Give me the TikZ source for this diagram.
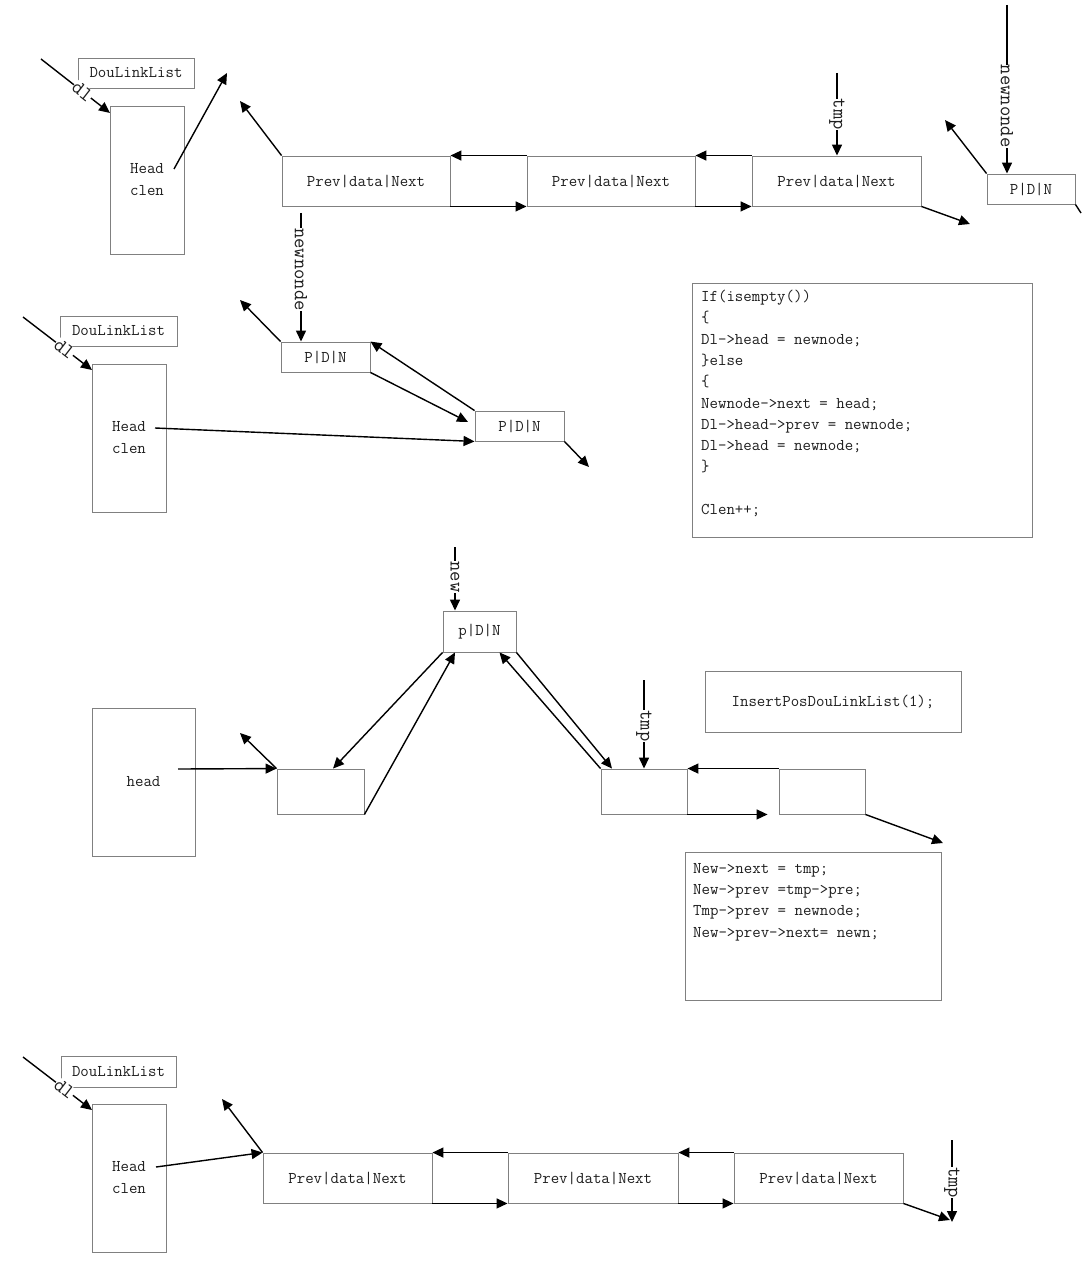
\documentclass[tikz,border=0pt]{standalone}
\usepackage{fontspec}
\usetikzlibrary{arrows.meta}
\definecolor{boxgray}{RGB}{128,128,128}
\definecolor{inkgray}{RGB}{30,30,30}
\tikzset{
  cell/.style={draw=boxgray, line width=0.9pt, inner sep=0pt, align=center,
    font=\fontsize{16.4}{22}\selectfont\ttfamily, text=inkgray},
  ptr/.style={-{Triangle[length=11pt,width=10pt]}, line width=1.4pt},
  tag/.style={fill=white, inner sep=0.3pt, font=\fontsize{20}{22}\selectfont\ttfamily, text=inkgray},
  vtag/.style={tag, rotate=-90},
  codetext/.style={font=\fontsize{16.4}{21.3}\selectfont\ttfamily, text=inkgray,
    align=left, inner sep=0pt, anchor=north west}
}
\begin{document}
\begin{tikzpicture}[x=1pt, y=-1pt]
      \fill[white] (0,0) rectangle (1081,1281);
      \useasboundingbox (0,0) rectangle (1081,1281);
      % first list
      \node[cell, minimum width=116, minimum height=30] (dll1) at (136,73) {DouLinkList};
      \node[cell, minimum width=74, minimum height=148] (hd1) at (147,180) {Head\\clen};
      \node[cell, minimum width=168, minimum height=50] (pv1a) at (366,181) {Prev|data|Next};
      \node[cell, minimum width=168, minimum height=50] (pv1b) at (611,181) {Prev|data|Next};
      \node[cell, minimum width=169, minimum height=50] (pv1c) at (836.5,181) {Prev|data|Next};
      \node[cell, minimum width=88, minimum height=30] (pdn1) at (1031,189) {P|D|N};
      \coordinate (dl1) at (41,59);
      \coordinate (dl1tip) at (110,113);
      \coordinate (hd1out) at (174,169);
      \coordinate (hd1up) at (227,73);
      \coordinate (pv1aup) at (240,101);
      \coordinate (tmp1) at (837,73);
      \coordinate (pv1cdn) at (970,224);
      \coordinate (nn1) at (1007,5);
      \coordinate (pdn1up) at (945,120);
      \coordinate (pdn1dn) at (1081,213);
      \begin{scope}[ptr]
        \draw (dl1) to node[tag, sloped, pos=0.6] {dl} (dl1tip);
        \draw (hd1out) to (hd1up);
        \draw (pv1a.north west) to (pv1aup);
        \draw (pv1b.north west) to (pv1a.north east);
        \draw (pv1a.south east) to (pv1b.south west);
        \draw (pv1c.north west) to (pv1b.north east);
        \draw (pv1b.south east) to (pv1c.south west);
        \draw (tmp1) to node[vtag, pos=0.5] {tmp} (tmp1 |- pv1c.north);
        \draw (pv1c.south east) to (pv1cdn);
        \draw (nn1) to node[vtag, pos=0.6] {newnonde} (nn1 |- pdn1.north);
        \draw (pdn1.north west) to (pdn1up);
        \draw[-] (pdn1.south east) to (pdn1dn);
      \end{scope}
      % empty list, first insert
      \node[cell, minimum width=117, minimum height=30] (dll2) at (118.5,331) {DouLinkList};
      \node[cell, minimum width=74, minimum height=148] (hd2) at (129,438) {Head\\clen};
      \node[cell, minimum width=89, minimum height=30] (pdn2a) at (325.5,357) {P|D|N};
      \node[cell, minimum width=89, minimum height=30] (pdn2b) at (519.5,426) {P|D|N};
      \node[cell, minimum width=340, minimum height=254] (code1) at (862,410) {};
      \node[codetext] (code1txt) at (701,290) {If(isempty())\\ \{\\ Dl->head = newnode;\\ \}else\\ \{\\ Newnode->next = head;\\ Dl->head->prev = newnode;\\ Dl->head = newnode;\\ \}\\[21.3pt] Clen++;};
      \coordinate (dl2) at (23,317);
      \coordinate (dl2tip) at (92,370);
      \coordinate (hd2out) at (155,428);
      \coordinate (pdn2aup) at (240,300);
      \coordinate (pdn2bin) at (468,422);
      \coordinate (pdn2bdn) at (589,467);
      \coordinate (nn2) at (301,213);
      \begin{scope}[ptr]
        \draw (dl2) to node[tag, sloped, pos=0.6] {dl} (dl2tip);
        \draw (hd2out) to (pdn2b.south west);
        \draw (pdn2a.north west) to (pdn2aup);
        \draw (pdn2a.south east) to (pdn2bin);
        \draw (pdn2b.north west) to (pdn2a.north east);
        \draw (pdn2b.south east) to (pdn2bdn);
        \draw (nn2) to node[vtag, pos=0.44] {newnonde} (nn2 |- pdn2a.north);
      \end{scope}
      % insert at position
      \node[cell, minimum width=73, minimum height=41] (pdn3) at (479.5,631.5) {p|D|N};
      \node[cell, minimum width=103, minimum height=148] (hd3) at (143.5,782) {head};
      \node[cell, minimum width=87, minimum height=45] (ea) at (320.5,791.5) {};
      \node[cell, minimum width=86, minimum height=45] (eb) at (644,791.5) {};
      \node[cell, minimum width=86, minimum height=45] (ec) at (822,791.5) {};
      \node[cell, minimum width=256, minimum height=61] (ins) at (833,701.5) {InsertPosDouLinkList(1);};
      \node[cell, minimum width=256, minimum height=148] (code2) at (813,926) {};
      \node[codetext] (code2txt) at (693,863) {New->next = tmp;\\ New->prev =tmp->pre;\\ Tmp->prev = newnode;\\ New->prev->next= newn;};
      \coordinate (new3) at (455,547);
      \coordinate (hd3out) at (178,769);
      \coordinate (eaup) at (240,733);
      \coordinate (tmp3) at (644,680);
      \coordinate (ecdn) at (943,843);
      \begin{scope}[ptr]
        \draw (new3) to node[vtag, pos=0.47] {new} (new3 |- pdn3.north);
        \draw (hd3out) to (ea.north west);
        \draw (ea.north west) to (eaup);
        \draw (pdn3.south west) to ([xshift=12.5]ea.north);
        \draw (ea.south east) to ([xshift=-24.5]pdn3.south);
        \draw (eb.north west) to ([xshift=20]pdn3.south);
        \draw (pdn3.south east) to ([xshift=-32]eb.north);
        \draw (tmp3) to node[vtag, pos=0.52] {tmp} (tmp3 |- eb.north);
        \draw (ec.north west) to (eb.north east);
        \draw (eb.south east) to ([xshift=-11]ec.south west);
        \draw (ec.south east) to (ecdn);
      \end{scope}
      % last list
      \node[cell, minimum width=115, minimum height=31] (dll4) at (118.5,1071.5) {DouLinkList};
      \node[cell, minimum width=74, minimum height=148] (hd4) at (129,1178) {Head\\clen};
      \node[cell, minimum width=169, minimum height=50] (pv4a) at (347.5,1178) {Prev|data|Next};
      \node[cell, minimum width=170, minimum height=50] (pv4b) at (593,1178) {Prev|data|Next};
      \node[cell, minimum width=169, minimum height=50] (pv4c) at (818.5,1178) {Prev|data|Next};
      \coordinate (dl4) at (23,1057);
      \coordinate (dl4tip) at (92,1110);
      \coordinate (hd4out) at (156,1167);
      \coordinate (pv4aup) at (222,1099);
      \coordinate (pv4cdn) at (950,1220);
      \coordinate (tmp4) at (952,1140);
      \coordinate (tmp4tip) at (952,1222);
      \begin{scope}[ptr]
        \draw (dl4) to node[tag, sloped, pos=0.6] {dl} (dl4tip);
        \draw (hd4out) to (pv4a.north west);
        \draw (pv4a.north west) to (pv4aup);
        \draw (pv4b.north west) to (pv4a.north east);
        \draw (pv4a.south east) to (pv4b.south west);
        \draw (pv4c.north west) to (pv4b.north east);
        \draw (pv4b.south east) to (pv4c.south west);
        \draw (pv4c.south east) to (pv4cdn);
        \draw (tmp4) to node[vtag, pos=0.52] {tmp} (tmp4tip);
      \end{scope}
\end{tikzpicture}
\end{document}
